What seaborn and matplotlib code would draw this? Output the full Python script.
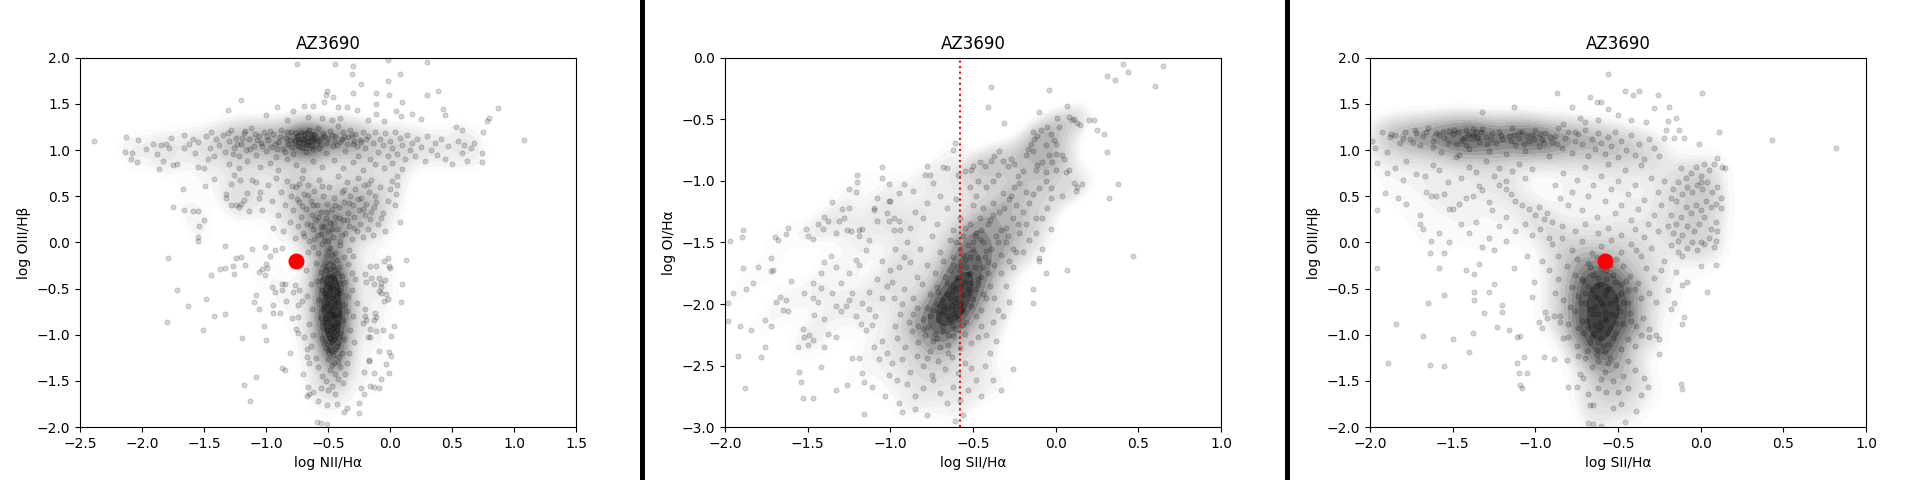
import matplotlib
matplotlib.use("Agg")
import matplotlib.pyplot as plt
from matplotlib.patches import Rectangle
import pandas as pd
import seaborn as sns

# ---- panel 1: log NII/Ha vs log OIII/Hb ----
p1_top = [(-0.75,1.93),(-0.44,1.93),(-0.30,1.91),(-0.31,1.82),(-0.02,1.97),(0.08,1.82),(-0.02,1.75),(-0.23,1.71),
          (-0.51,1.64),(-0.52,1.59),(-0.46,1.57),(-0.30,1.62),(-0.11,1.62),(-0.01,1.59),(0.10,1.52),(-0.11,1.50),
          (-0.42,1.47),(-0.35,1.47),(-0.53,1.52),(-0.62,1.48),(-0.69,1.48),(-0.78,1.42),(-0.91,1.47),(-1.00,1.38),
          (-1.20,1.54),(-1.31,1.43),(-0.27,1.43),(-0.11,1.39),(0.05,1.42),(0.09,1.37),(0.18,1.39),(0.25,1.34),
          (0.30,1.95),(0.30,1.59),(0.39,1.64),(0.43,1.44),(0.44,1.38),(0.87,1.45),(0.80,1.35),(0.78,1.31),
          (-0.55,1.35),(-0.47,1.33),(-0.40,1.35),(-0.66,1.36),(-0.18,1.33),(-0.83,1.33),(-0.05,1.31)]
p1_band = [(-2.39,1.10),(-2.14,0.98),(-2.08,0.97),(-2.04,0.87),(-2.09,0.90),(-2.13,1.14),(-2.03,1.11),(-1.97,1.01),
           (-1.91,1.07),(-1.85,1.05),(-1.77,1.13),(-1.81,1.06),(-1.78,1.02),(-1.88,0.96),(-1.83,0.88),(-1.86,0.79),
           (-1.75,0.84),(-1.72,0.85),(-1.66,1.16),(-1.59,1.12),(-1.57,0.97),(-1.66,1.02),(-1.55,0.82),(-1.50,0.80),
           (-1.62,1.06),(-1.55,1.09),(-1.48,1.15),(-1.44,1.20),(-1.40,1.12),(-1.45,1.02),(-1.42,0.94),(-1.47,0.90),
           (-1.38,1.05),(-1.35,1.16),(-1.33,0.98),(-1.30,1.10),(-1.28,1.22),(-1.26,1.02),(-1.24,1.13),(-1.22,0.93),
           (-1.20,1.07),(-1.18,1.18),(-1.16,1.00),(-1.14,1.12),(-1.12,1.24),(-1.10,1.04),(-1.08,0.95),(-1.06,1.15),
           (-1.04,1.08),(-1.02,1.20),(-1.00,0.99),(-0.98,1.11),(-0.96,1.03),(-0.94,1.17),(-0.92,0.92),(-0.90,1.09),
           (-0.88,1.22),(-0.86,1.01),(-0.84,1.13),(-0.82,1.06),(-0.80,1.19),(-0.78,0.96),(-0.77,1.10),(-0.75,1.15),
           (-0.74,1.04),(-0.72,1.20),(-0.71,1.12),(-0.70,1.08),(-0.69,1.17),(-0.68,0.98),(-0.67,1.13),(-0.66,1.05),
           (-0.65,1.22),(-0.64,1.10),(-0.63,1.16),(-0.62,1.01),(-0.60,1.12),(-0.58,1.24),(-0.56,1.07),(-0.54,1.18),
           (-0.52,0.97),(-0.50,1.13),(-0.48,1.21),(-0.46,1.04),(-0.44,1.15),(-0.42,1.26),(-0.40,1.09),(-0.38,1.19),
           (-0.36,0.99),(-0.34,1.14),(-0.32,1.22),(-0.30,1.06),(-0.28,1.17),(-0.26,0.94),(-0.24,1.11),(-0.22,1.20),
           (-0.20,1.02),(-0.18,1.15),(-0.16,0.90),(-0.14,1.08),(-0.12,1.19),(-0.10,0.98),(-0.08,1.12),(-0.06,1.05),
           (-0.04,1.18),(-0.02,0.93),(0.00,1.10),(0.02,1.02),(0.04,1.19),(0.06,0.96),(0.08,1.13),(0.10,1.05),
           (0.12,0.90),(0.14,1.16),(0.16,1.00),(0.18,1.08),(0.20,0.94),(0.22,1.12),(0.25,1.03),(0.28,0.88),
           (0.30,1.15),(0.33,1.00),(0.36,1.08),(0.38,0.95),(0.41,1.12),(0.44,0.90),(0.47,1.04),(0.50,0.85),
           (0.53,1.25),(0.55,1.10),(0.58,0.97),(0.60,1.05),(0.62,0.88),(0.65,1.02),(0.68,1.08),(0.74,0.97),
           (0.74,0.87),(1.08,1.11),(0.75,1.20),(0.58,1.22),
           (-1.30,0.85),(-1.22,0.80),(-1.15,0.88),(-1.05,0.82),(-0.97,0.86),(-0.90,0.78),(-0.83,0.90),(-0.76,0.84),
           (-0.70,0.78),(-0.62,0.88),(-0.55,0.82),(-0.45,0.89),(-0.38,0.80),(-0.30,0.87),(-0.22,0.78),(-0.12,0.85),
           (-0.05,0.80),(0.02,0.86),(0.06,0.72),(0.10,0.79),
           (-1.31,1.18),(-1.27,0.96),(-1.19,1.13),(-1.13,1.01),(-1.09,1.17),(-1.03,1.04),(-0.99,1.15),(-0.93,1.06),
           (-0.89,1.14),(-0.85,0.98),(-0.81,1.11),(-0.79,1.03),(-0.76,1.18),(-0.73,1.09),(-0.71,1.02),(-0.69,1.12),
           (-0.67,1.19),(-0.66,1.09),(-0.64,1.14),(-0.63,1.05),(-0.61,1.17),(-0.59,1.10),(-0.57,1.02),(-0.55,1.13),
           (-0.51,1.08),(-0.47,1.16),(-0.43,1.05),(-0.39,1.12),(-0.35,1.07),(-0.31,1.16),(-0.27,1.04),(-0.23,1.09),
           (-0.19,1.12),(-1.23,1.06),(-1.17,1.21),(-1.07,1.11),(-0.97,1.21),(-0.91,1.01),(-0.83,1.19),(-0.74,1.12),
           (-0.68,1.06),(-0.62,1.12),(-0.53,1.15),(-0.45,1.10),(-0.37,1.14),(-0.29,1.10)]
p1_fan = [(-1.75,0.38),(-1.66,0.35),(-1.59,0.34),(-1.55,0.34),(-1.50,0.24),(-1.54,0.18),(-1.55,0.06),(-1.55,0.02),
          (-1.67,0.58),(-1.49,0.61),(-1.42,0.69),(-1.32,0.52),(-1.32,0.48),(-1.28,0.63),(-1.26,0.73),(-1.21,0.67),
          (-1.18,0.46),(-1.24,0.40),(-1.22,0.38),(-1.20,0.42),(-1.28,0.41),(-1.14,0.34),(-1.15,0.54),(-1.11,0.67),
          (-1.08,0.65),(-1.05,0.55),(-1.06,0.48),(-1.03,0.35),(-0.94,0.16),
          (-0.98,0.62),(-0.95,0.45),(-0.92,0.70),(-0.90,0.30),(-0.88,0.55),(-0.86,0.12),(-0.85,0.40),(-0.83,0.66),
          (-0.81,0.22),(-0.80,0.50),(-0.78,0.35),(-0.77,0.05),(-0.76,0.60),(-0.74,0.18),(-0.73,0.44),(-0.72,0.28),
          (-0.71,0.70),(-0.70,0.10),(-0.69,0.52),(-0.68,0.36),(-0.67,0.20),(-0.66,0.62),(-0.65,0.02),(-0.64,0.45),
          (-0.63,0.30),(-0.62,0.14),(-0.61,0.56),(-0.60,0.24),(-0.59,0.40),(-0.58,0.08),(-0.57,0.68),(-0.56,0.33),
          (-0.55,0.17),(-0.54,0.50),(-0.53,0.03),(-0.52,0.26),(-0.51,0.42),(-0.50,0.12),(-0.49,0.60),(-0.48,0.21),
          (-0.47,0.36),(-0.46,0.06),(-0.45,0.48),(-0.44,0.28),(-0.43,0.15),(-0.42,0.72),(-0.41,0.38),(-0.40,0.02),
          (-0.39,0.55),(-0.38,0.24),(-0.37,0.44),(-0.36,0.10),(-0.35,0.65),(-0.34,0.32),(-0.33,0.18),(-0.32,0.50),
          (-0.31,0.04),(-0.30,0.40),(-0.29,0.27),(-0.28,0.58),(-0.27,0.12),(-0.26,0.70),(-0.25,0.35),(-0.24,0.20),
          (-0.23,0.48),(-0.22,0.06),(-0.21,0.62),(-0.20,0.30),(-0.19,0.42),(-0.18,0.15),(-0.17,0.55),(-0.16,0.25),
          (-0.15,0.68),(-0.14,0.08),(-0.13,0.38),(-0.12,0.50),(-0.10,0.20),(-0.08,0.60),(-0.06,0.32),(-0.04,0.12),
          (-0.02,0.45),(0.00,0.58),(0.02,0.66),(0.04,0.40),(0.05,0.52),(0.08,0.22),(0.06,0.62),
          (-0.79,0.61),(-0.75,0.47),(-0.71,0.39),(-0.66,0.51),(-0.62,0.41),(-0.58,0.27),(-0.55,0.61),(-0.51,0.33),
          (-0.47,0.15),(-0.44,0.41),(-0.41,0.26),(-0.37,0.57),(-0.33,0.43),(-0.29,0.16),(-0.26,0.47),(-0.22,0.36),
          (-0.18,0.63),(-0.15,0.33),(-0.11,0.44),(-0.07,0.26),(-0.69,0.07),(-0.61,0.04),(-0.56,0.09),(-0.50,0.02),
          (-0.45,0.21),(-0.39,0.08),(-0.64,0.19),(-0.53,0.18),(-0.35,0.24),(-0.73,0.63)]
p1_core = [(-0.62,-0.05),(-0.55,-0.02),(-0.48,-0.06),(-0.40,-0.03),(-0.33,-0.08),(-0.58,-0.12),(-0.51,-0.15),(-0.44,-0.11),
           (-0.37,-0.16),(-0.60,-0.22),(-0.53,-0.25),(-0.47,-0.20),(-0.41,-0.27),(-0.34,-0.23),(-0.56,-0.32),(-0.50,-0.35),
           (-0.45,-0.30),(-0.39,-0.36),(-0.31,-0.33),(-0.59,-0.42),(-0.52,-0.45),(-0.48,-0.40),(-0.43,-0.47),(-0.36,-0.43),
           (-0.55,-0.52),(-0.50,-0.56),(-0.46,-0.50),(-0.41,-0.55),(-0.34,-0.58),(-0.57,-0.62),(-0.51,-0.66),(-0.47,-0.60),
           (-0.42,-0.64),(-0.37,-0.68),(-0.54,-0.72),(-0.49,-0.75),(-0.45,-0.70),(-0.40,-0.77),(-0.35,-0.74),(-0.56,-0.82),
           (-0.51,-0.86),(-0.46,-0.80),(-0.42,-0.88),(-0.38,-0.84),(-0.53,-0.93),(-0.48,-0.96),(-0.44,-0.91),(-0.40,-0.98),
           (-0.55,-1.03),(-0.50,-1.07),(-0.46,-1.01),(-0.42,-1.09),(-0.37,-1.05),(-0.52,-1.14),(-0.47,-1.18),(-0.43,-1.12),
           (-0.39,-1.20),(-0.50,-1.26),(-0.45,-1.30),(-0.41,-1.24),(-0.48,-1.38),(-0.44,-1.42),(-0.40,-1.35),
           (-0.50,-0.09),(-0.46,-0.25),(-0.53,-0.38),(-0.44,-0.42),(-0.49,-0.52),(-0.52,-0.58),(-0.45,-0.62),(-0.48,-0.68),
           (-0.51,-0.78),(-0.44,-0.82),(-0.47,-0.88),(-0.50,-0.99),(-0.45,-1.05),(-0.48,-1.12),(-0.46,-0.35),(-0.49,-0.45),
           (-0.43,-0.58),(-0.47,-0.73),(-0.43,-0.95),(-0.49,-1.20),
           (-0.66,-0.10),(-0.68,-0.30),(-0.64,-0.45),(-0.67,-0.58),(-0.63,-0.72),(-0.65,-0.88),(-0.62,-1.00),(-0.64,-1.12),
           (-0.60,-1.25),(-0.30,-0.15),(-0.28,-0.40),(-0.31,-0.52),(-0.27,-0.66),(-0.30,-0.80),(-0.32,-0.95),(-0.29,-1.08),
           (-0.33,-1.20),(-0.35,-1.30),(-0.58,-1.35),(-0.55,-1.45),(-0.52,-1.50),(-0.47,-1.55),(-0.42,-1.48),(-0.38,-1.52),
           (-0.36,-1.42),(-0.50,-1.60),(-0.44,-1.64),(-0.56,-1.58),
           (-0.47,-0.14),(-0.52,-0.21),(-0.43,-0.19),(-0.49,-0.29),(-0.42,-0.33),(-0.55,-0.41),(-0.47,-0.46),(-0.41,-0.51),
           (-0.53,-0.55),(-0.46,-0.57),(-0.50,-0.62),(-0.44,-0.67),(-0.53,-0.69),(-0.47,-0.77),(-0.41,-0.72),(-0.49,-0.83),
           (-0.43,-0.86),(-0.54,-0.87),(-0.46,-0.93),(-0.51,-0.95),(-0.41,-1.02),(-0.48,-1.03),(-0.53,-1.09),(-0.44,-1.15),
           (-0.46,-1.22),(-0.42,-1.29),(-0.47,-1.33),(-0.52,-0.30),(-0.45,-0.38),(-0.40,-0.44),(-0.48,-0.49),(-0.43,-0.53),
           (-0.50,-0.71),(-0.45,-0.78),(-0.48,-0.91),(-0.42,-0.79),(-0.52,-0.82),(-0.45,-0.97),(-0.47,-1.09),(-0.50,-1.16)]
p1_scatter = [(-1.79,-0.17),(-1.72,-0.51),(-1.80,-0.86),(-1.63,-0.69),(-1.48,-0.61),(-1.51,-0.95),(-1.44,-0.35),(-1.42,-0.80),
              (-1.33,-0.77),(-1.37,-0.29),(-1.33,-0.28),(-1.27,-0.26),(-1.24,-0.17),(-1.20,-0.16),(-1.17,-0.24),(-1.26,-0.34),
              (-1.33,-0.04),(-1.11,-0.07),(-1.01,-0.05),(-0.87,-0.06),(-0.93,-0.08),(-0.97,-0.15),(-1.00,-0.23),(-1.03,-0.29),
              (-1.06,-0.32),(-1.01,-0.35),(-0.99,-0.28),(-1.19,-1.03),(-1.08,-1.46),(-1.18,-1.54),(-1.13,-1.72),(-1.00,-1.06),
              (-1.02,-0.90),(-1.10,-0.64),(-1.08,-0.57),(-1.06,-0.72),(-0.95,-0.48),(-0.93,-0.54),(-0.94,-0.68),(-0.89,-0.76),
              (-0.94,-0.76),(-0.87,-0.45),(-0.85,-0.45),(-0.87,-0.52),(-0.84,-0.63),(-0.81,-1.20),(-0.87,-1.36),(-0.85,-1.38),
              (-0.78,-0.54),(-0.77,-0.46),(-0.79,-0.82),(-0.74,-0.81),(-0.74,-0.68),(-0.71,-0.63),(-0.73,-0.52),(-0.76,-0.94),
              (-0.74,-0.98),(-0.69,-1.02),(-0.67,-1.15),(-0.67,-1.24),(-0.65,-1.30),(-0.70,-1.42),(-0.66,-1.57),(-0.62,-1.62),
              (-0.58,-1.72),(-0.67,-1.66),(-0.65,-1.64),(-0.59,-1.94),(-0.56,-1.95),(-0.51,-1.96),(-0.51,-1.76),(-0.43,-1.75),
              (-0.35,-1.79),(-0.37,-1.84),(-0.25,-1.74),(-0.25,-1.85),(-0.21,-1.64),(-0.23,-1.58),(-0.13,-1.56),(-0.16,-1.55),
              (-0.09,-1.58),(-0.07,-1.48),(-0.01,-1.41),(-0.13,-1.41),(-0.21,-1.40),(-0.03,-1.32),(0.01,-1.23),(-0.01,-1.19),
              (-0.09,-1.17),(-0.17,-1.28),(-0.17,-1.27),(0.03,-0.91),(0.01,-1.01),(-0.06,-0.95),(-0.11,-0.96),(-0.16,-1.02),
              (-0.18,-1.02),(-0.13,-0.84),(-0.12,-0.76),(-0.11,-0.81),(-0.19,-0.84),(0.09,-0.64),(0.10,-0.45),(0.13,-0.19),
              (-0.02,-0.61),(-0.05,-0.63),(-0.07,-0.55),(-0.09,-0.53),(-0.03,-0.56),(-0.07,-0.44),(-0.07,-0.48),(-0.04,-0.41),
              (-0.09,-0.39),(-0.13,-0.45),(-0.15,-0.39),(-0.19,-0.43),(-0.20,-0.34),(-0.16,-0.25),(-0.11,-0.25),(-0.02,-0.17),
              (0.00,-0.28),(-0.01,-0.25),(-0.05,-0.20),(-0.20,-0.72),(-0.20,-0.80),(-0.22,-0.87),(-0.16,-0.94)]

# ---- panel 2: log SII/Ha vs log OI/Ha ----
p2_top = [(0.41,-0.05),(0.44,-0.12),(0.31,-0.15),(0.36,-0.18),(0.65,-0.07),(0.60,-0.23),(-0.04,-0.26),(-0.39,-0.24),
          (-0.41,-0.40),(-0.31,-0.53),(-0.10,-0.44),(0.07,-0.39),(0.20,-0.51),(0.23,-0.51),(0.25,-0.59),(0.29,-0.62),
          (0.31,-0.77),(0.38,-1.03),(0.32,-1.14),(0.47,-1.61),(0.07,-1.72),(-0.06,-1.75),(-0.14,-1.88),(-0.14,-1.99),
          (-0.10,-1.63)]
p2_branch = [(0.08,-0.48),(0.10,-0.51),(0.13,-0.53),(0.15,-0.55),(0.11,-0.50),(0.01,-0.49),(0.02,-0.56),(-0.01,-0.67),
             (0.00,-0.70),(-0.03,-0.62),(-0.05,-0.56),(-0.09,-0.59),(-0.11,-0.64),(-0.14,-0.60),(-0.13,-0.66),(-0.15,-0.70),
             (-0.17,-0.74),(-0.18,-0.79),(-0.14,-0.76),(-0.06,-0.71),(-0.04,-0.79),(0.00,-0.78),(0.04,-0.79),(0.05,-0.82),
             (-0.02,-0.85),(-0.08,-0.85),(-0.11,-0.87),(-0.12,-0.91),(-0.06,-0.93),(0.00,-0.91),(0.06,-0.93),(0.08,-0.91),
             (0.11,-1.02),(0.13,-1.05),(0.16,-1.03),(0.12,-1.08),(-0.03,-1.06),(-0.03,-1.14),(-0.05,-1.22),(-0.03,-1.39),
             (-0.10,-1.06),(-0.14,-1.11),(-0.18,-1.09),(-0.22,-1.02),(-0.23,-0.96),(-0.25,-0.86),(-0.27,-0.82),(-0.29,-0.88),
             (-0.32,-0.84),(-0.34,-0.76),(-0.37,-0.80),(-0.39,-0.84),(-0.43,-0.88),(-0.46,-0.85),(-0.50,-0.88),(-0.51,-0.91),
             (-0.55,-0.92),(-0.59,-0.95),(-0.61,-0.69),(-0.62,-0.75),(-0.32,-1.10),(-0.28,-1.15),(-0.24,-1.20),(-0.20,-1.25),
             (-0.16,-1.18),(-0.12,-1.30),(-0.18,-1.35),(-0.22,-1.42),(-0.26,-1.30),(-0.30,-1.38),(-0.34,-1.25),(-0.38,-1.18),
             (-0.42,-1.05),(-0.44,-1.22),(-0.40,-1.32),(-0.36,-1.45),(-0.30,-1.50),(-0.26,-1.55),(-0.20,-1.58),(-0.16,-1.48),
             (-0.12,-1.42),(-0.08,-1.55),(-0.10,-1.65),(-0.28,-1.65),(-0.33,-1.60),(-0.38,-1.00),(-0.47,-1.00),(-0.48,-1.12),
             (-0.52,-1.05),(-0.50,-1.20),(-0.46,-1.30),(-0.52,-1.35),(-0.48,-1.42),(-0.44,-1.50),(-0.50,-1.50),(-0.06,-1.00),
             (0.04,-1.12),(-0.08,-1.30),(-0.25,-1.05),(-0.35,-0.95),(-0.20,-0.92),
             (-0.55,-1.38),(-0.53,-1.52),(-0.49,-1.45),(-0.45,-1.40),(-0.43,-1.62),(-0.41,-1.75),(-0.47,-1.80),(-0.44,-1.70),
             (-0.39,-1.55),(-0.37,-1.68),(-0.35,-1.50),(-0.41,-1.35),(-0.38,-1.28),(-0.33,-1.40),(-0.31,-1.22),(-0.27,-1.12),
             (-0.23,-1.35),(-0.29,-1.45),(-0.52,-1.75),(-0.49,-1.88)]
p2_left = [(-1.89,-1.40),(-1.90,-1.46),(-1.97,-1.49),(-1.70,-1.46),(-1.68,-1.48),(-1.62,-1.38),(-1.63,-1.43),(-1.51,-1.39),
           (-1.50,-1.45),(-1.47,-1.47),(-1.40,-1.29),(-1.38,-1.33),(-1.44,-1.35),(-1.41,-1.39),(-1.35,-1.17),(-1.29,-1.23),
           (-1.25,-1.22),(-1.10,-1.22),(-1.10,-1.24),(-1.02,-1.26),(-0.95,-1.10),(-1.08,-1.14),(-1.01,-1.16),(-1.00,-1.16),
           (-1.05,-0.89),(-1.20,-0.95),(-1.20,-1.01),(-1.21,-1.09),(-1.25,-1.07),(-1.05,-0.98),(-1.01,-1.03),(-0.92,-1.03),
           (-0.79,-0.95),(-0.76,-0.95),(-0.78,-0.88),(-0.68,-0.89),(-0.66,-0.90),(-1.33,-1.42),(-1.31,-1.33),(-1.28,-1.30),
           (-1.26,-1.40),(-1.24,-1.41),(-1.19,-1.40),(-1.17,-1.39),(-1.19,-1.45),(-1.13,-1.48),(-1.08,-1.33),(-1.01,-1.33),
           (-0.98,-1.30),(-0.95,-1.33),(-0.94,-1.40),
           (-1.98,-1.99),(-1.98,-2.14),(-1.91,-2.18),(-1.92,-2.42),(-1.88,-2.68),(-1.95,-1.91),(-1.89,-1.71),(-1.87,-1.88),
           (-1.84,-2.21),(-1.83,-1.83),(-1.80,-1.70),(-1.78,-2.43),(-1.76,-2.35),(-1.76,-2.13),(-1.72,-2.18),(-1.71,-1.72),
           (-1.72,-1.63),(-1.72,-1.73),(-1.69,-1.98),(-1.67,-1.94),(-1.65,-2.05),(-1.63,-1.97),(-1.62,-2.06),(-1.60,-1.81),
           (-1.56,-2.35),(-1.55,-2.55),(-1.54,-2.63),(-1.53,-2.76),(-1.47,-2.76),(-1.53,-2.20),(-1.52,-2.27),(-1.49,-2.25),
           (-1.50,-2.33),(-1.47,-2.29),(-1.46,-2.09),(-1.44,-1.98),(-1.47,-1.95),(-1.52,-1.91),(-1.47,-1.83),(-1.42,-1.75),
           (-1.40,-1.66),(-1.42,-1.87),(-1.35,-1.91),(-1.33,-2.02),(-1.30,-2.06),(-1.27,-2.02),(-1.25,-1.97),(-1.23,-1.91),
           (-1.40,-2.12),(-1.38,-2.24),(-1.33,-2.27),(-1.40,-2.35),(-1.42,-2.51),(-1.33,-2.70),(-1.26,-2.66),(-1.23,-2.44),
           (-1.19,-2.44),(-1.17,-2.56),(-1.16,-2.63),(-1.16,-2.89),(-1.11,-2.67),(-1.18,-2.16),(-1.15,-2.21),(-1.11,-2.17),
           (-1.09,-2.10),(-1.13,-2.04),(-1.17,-1.99),(-1.21,-2.10),(-1.21,-1.64),(-1.19,-1.68),(-1.25,-1.75),(-1.30,-1.83),
           (-1.33,-1.70),(-1.36,-1.61),(-1.05,-1.65),(-1.00,-1.72),(-1.02,-1.85),(-0.98,-1.95),(-1.05,-2.30),(-1.02,-2.40),
           (-0.99,-2.48),(-1.07,-2.45),(-1.01,-2.58),(-0.96,-2.62),(-1.03,-2.75),(-0.95,-2.80),(-0.93,-2.88)]
p2_core = [(-0.90,-1.50),(-0.82,-1.55),(-0.75,-1.45),(-0.70,-1.58),(-0.64,-1.48),(-0.58,-1.55),(-0.52,-1.62),(-0.46,-1.47),
           (-0.42,-1.57),(-0.95,-1.70),(-0.88,-1.66),(-0.84,-1.78),(-0.78,-1.68),(-0.73,-1.75),(-0.68,-1.65),(-0.64,-1.72),
           (-0.60,-1.80),(-0.57,-1.68),(-0.53,-1.76),(-0.49,-1.70),(-0.45,-1.78),(-0.41,-1.66),(-0.62,-1.62),(-0.55,-1.64),
           (-0.92,-1.88),(-0.86,-1.95),(-0.81,-1.84),(-0.76,-1.92),(-0.72,-1.86),(-0.69,-1.97),(-0.66,-1.83),(-0.63,-1.90),
           (-0.61,-1.98),(-0.58,-1.85),(-0.56,-1.93),(-0.53,-1.88),(-0.50,-1.96),(-0.47,-1.84),(-0.44,-1.92),(-0.60,-1.88),
           (-0.64,-1.95),(-0.57,-1.99),(-0.94,-2.08),(-0.89,-2.15),(-0.84,-2.03),(-0.80,-2.12),(-0.77,-2.19),(-0.74,-2.05),
           (-0.71,-2.13),(-0.68,-2.02),(-0.66,-2.10),(-0.63,-2.17),(-0.61,-2.04),(-0.59,-2.12),(-0.56,-2.06),(-0.54,-2.15),
           (-0.51,-2.02),(-0.48,-2.10),(-0.45,-2.18),(-0.62,-2.08),(-0.65,-2.03),(-0.58,-2.01),(-0.70,-2.08),
           (-0.96,-2.28),(-0.91,-2.35),(-0.87,-2.22),(-0.83,-2.31),(-0.79,-2.25),(-0.76,-2.38),(-0.72,-2.28),(-0.68,-2.22),
           (-0.65,-2.33),(-0.62,-2.26),(-0.58,-2.36),(-0.55,-2.24),(-0.51,-2.32),(-0.47,-2.27),(-0.80,-2.20),
           (-0.93,-2.45),(-0.88,-2.55),(-0.84,-2.42),(-0.80,-2.50),(-0.75,-2.58),(-0.71,-2.46),(-0.67,-2.53),(-0.63,-2.43),
           (-0.59,-2.56),(-0.55,-2.48),(-0.51,-2.52),(-0.78,-2.44),(-0.90,-2.65),(-0.85,-2.75),(-0.80,-2.68),(-0.74,-2.62),
           (-0.70,-2.72),(-0.66,-2.80),(-0.62,-2.67),(-0.58,-2.78),(-0.56,-2.90),(-0.61,-2.95),(-0.53,-2.70),(-0.48,-2.62),
           (-0.45,-2.75),(-0.85,-2.85),(-0.78,-2.90),
           (-0.40,-1.85),(-0.37,-1.95),(-0.35,-2.05),(-0.38,-2.15),(-0.42,-2.25),(-0.36,-2.30),(-0.40,-2.40),(-0.33,-1.75),
           (-0.30,-1.85),(-0.28,-1.98),(-0.32,-2.10),(-0.26,-1.70),(-0.43,-2.50),(-0.38,-2.62),(-0.33,-2.70),(-0.26,-2.53),
           (-0.24,-1.58),(-0.45,-2.05),(-0.42,-1.95),
           (-0.97,-1.55),(-0.92,-1.62),(-0.99,-1.82),(-0.93,-2.00),(-0.97,-2.18),(-1.05,-1.95),(-1.08,-1.80),(-1.10,-2.35),
           (-1.13,-1.90),(-1.15,-1.56),(-0.98,-1.40),(-0.88,-1.38),(-0.80,-1.30),(-0.72,-1.35),(-0.66,-1.22),(-0.70,-1.12),
           (-0.78,-1.18),(-0.85,-1.25),(-0.86,-1.08),(-0.74,-1.02),(-0.58,-1.30),(-0.60,-1.15),(-0.62,-1.40),(-0.56,-1.45),
           (-0.63,-2.01),(-0.60,-1.95),(-0.57,-2.05),(-0.66,-1.92),(-0.62,-1.85),(-0.59,-1.78),(-0.55,-1.82),(-0.68,-2.06),
           (-0.72,-2.00),(-0.64,-2.12),(-0.60,-2.09),(-0.56,-2.17),(-0.69,-2.18),(-0.73,-2.24),(-0.65,-2.25),(-0.61,-2.20),
           (-0.58,-1.72),(-0.54,-1.70),(-0.51,-1.83),(-0.67,-1.78),(-0.71,-1.90),(-0.76,-2.10),(-0.78,-2.03),(-0.52,-1.91),
           (-0.62,-1.68),(-0.56,-1.60),(-0.50,-1.55),(-0.47,-1.63),(-0.60,-1.50),(-0.65,-2.40),(-0.70,-2.35),(-0.74,-2.30),
           (-0.83,-2.18),(-0.86,-2.08)]

# ---- panel 3: log SII/Ha vs log OIII/Hb ----
p3_top = [(-0.56,1.82),(-0.87,1.62),(-0.46,1.64),(-0.41,1.59),(-0.37,1.64),(-0.26,1.59),(0.01,1.62),(-0.67,1.57),
          (-0.63,1.52),(-0.60,1.52),(-0.56,1.44),(-0.78,1.46),(-1.13,1.46),(-1.32,1.41),(-0.28,1.45),(-0.19,1.47),
          (-0.15,1.35),(-0.20,1.31),(-0.21,1.22),(0.11,1.20),(0.43,1.11),(0.82,1.02),(-0.01,1.06),(-0.73,1.35),
          (-0.50,1.38),(-0.42,1.33),(-0.33,1.30),(-0.70,1.30),(-0.83,1.28),(-0.62,1.33),(-0.10,1.13),(-0.16,1.13),
          (-0.13,1.22)]
p3_band = [(-1.99,1.10),(-1.97,1.02),(-1.93,1.20),(-1.90,0.98),(-1.88,1.14),(-1.85,1.16),(-1.82,1.08),(-1.79,1.20),
           (-1.76,1.12),(-1.73,1.22),(-1.70,1.05),(-1.68,1.15),(-1.65,1.24),(-1.62,1.10),(-1.60,1.18),(-1.57,0.98),
           (-1.55,1.13),(-1.52,1.21),(-1.50,1.17),(-1.48,1.06),(-1.46,0.95),(-1.44,1.12),(-1.42,1.22),(-1.40,1.01),
           (-1.38,1.16),(-1.36,1.20),(-1.34,1.09),(-1.32,1.23),(-1.30,1.14),(-1.28,0.99),(-1.26,1.18),(-1.24,1.08),
           (-1.22,1.20),(-1.20,1.12),(-1.18,0.96),(-1.16,1.15),(-1.14,1.24),(-1.12,1.05),(-1.10,1.13),(-1.08,1.19),
           (-1.06,0.99),(-1.04,1.10),(-1.02,1.16),(-1.00,1.22),(-0.98,1.04),(-0.96,1.12),(-0.94,1.18),(-0.92,0.94),
           (-0.90,1.09),(-0.88,1.15),(-0.86,1.24),(-0.84,1.02),(-0.82,1.13),(-0.80,1.20),(-0.78,0.97),(-0.76,1.10),
           (-0.74,1.17),(-0.72,1.06),(-0.70,1.22),(-0.68,0.93),(-0.66,1.12),(-0.64,1.01),(-0.62,1.18),(-0.60,1.08),
           (-0.58,0.96),(-0.56,1.14),(-0.54,1.04),(-0.52,1.20),(-0.50,0.92),(-0.48,1.10),(-0.45,1.00),(-0.42,1.16),
           (-0.40,0.95),(-0.37,1.07),(-0.34,0.90),(-0.31,1.12),(-0.28,1.02),(-0.25,0.94),(-0.22,1.13),
           (-1.80,1.13),(-1.58,1.16),(-1.47,1.19),(-1.35,1.14),(-1.27,1.12),(-1.15,1.10),(-1.05,1.15),(-0.95,1.08),
           (-1.42,1.05),(-1.62,1.03),(-1.72,1.18),(-1.38,1.23),(-1.10,1.20),(-0.87,1.07),(-0.76,1.19),
           (-1.87,1.17),(-1.74,1.09),(-1.66,1.19),(-1.53,1.08),(-1.49,1.22),(-1.41,1.17),(-1.33,1.19),(-1.29,1.07),
           (-1.21,1.16),(-1.13,1.16),(-1.07,1.06),(-1.01,1.12),(-0.97,1.17),(-0.91,1.14),(-1.45,1.10),(-1.56,1.20)]
p3_mid = [(-1.96,0.86),(-1.90,0.75),(-1.85,0.80),(-1.80,0.68),(-1.78,0.88),(-1.72,0.74),(-1.67,0.72),(-1.62,0.84),
          (-1.58,0.78),(-1.53,0.65),(-1.48,0.92),(-1.45,0.70),(-1.40,0.82),(-1.36,0.76),(-1.30,0.88),(-1.25,0.72),
          (-1.22,0.81),(-1.18,0.66),(-1.14,0.77),(-1.10,0.85),(-1.06,0.70),(-1.02,0.79),
          (-1.91,0.53),(-1.83,0.48),(-1.78,0.42),(-1.96,0.35),(-1.70,0.30),(-1.66,0.55),(-1.63,0.50),(-1.60,0.50),
          (-1.55,0.52),(-1.52,0.36),(-1.50,0.36),(-1.46,0.42),(-1.42,0.48),(-1.38,0.50),(-1.34,0.61),(-1.32,0.57),
          (-1.28,0.44),(-1.26,0.35),(-1.22,0.62),(-1.18,0.58),(-1.15,0.52),(-1.12,0.45),(-1.08,0.40),(-1.04,0.36),
          (-1.00,0.30),(-0.98,0.38),(-0.95,0.25),(-1.70,0.20),(-1.68,0.15),(-1.63,0.02),(-1.58,0.10),(-1.52,0.00),
          (-1.45,0.20),(-1.40,0.10),(-1.36,0.22),(-1.32,-0.05),(-1.28,0.05),(-1.22,0.18),(-1.18,0.28),(-1.12,0.12),
          (-1.06,0.20),(-1.02,0.08),(-0.97,0.15),(-0.92,0.05),(-0.90,0.22),(-0.93,0.32),
          (-0.88,0.62),(-0.85,0.48),(-0.83,0.75),(-0.80,0.40),(-0.78,0.55),(-0.75,0.68),(-0.72,0.35),(-0.70,0.82),
          (-0.68,0.50),(-0.65,0.62),(-0.63,0.28),(-0.60,0.72),(-0.58,0.45),(-0.56,0.85),(-0.54,0.58),(-0.52,0.32),
          (-0.50,0.66),(-0.48,0.40),(-0.46,0.78),(-0.44,0.52),(-0.42,0.24),(-0.40,0.62),(-0.38,0.36),(-0.36,0.84),
          (-0.34,0.46),(-0.32,0.20),(-0.30,0.70),(-0.28,0.30),(-0.26,0.55),(-0.24,0.40),(-0.22,0.66),(-0.20,0.18),
          (-0.18,0.48),(-0.84,0.18),(-0.76,0.12),(-0.70,0.20),(-0.62,0.10),(-0.56,0.16),(-0.48,0.08),(-0.40,0.14),
          (-0.34,0.06),(-0.26,0.12)]
p3_right = [(0.10,0.91),(0.13,0.82),(0.15,0.80),(0.08,0.85),(0.05,0.78),(0.02,0.85),(0.00,0.72),(-0.03,0.82),
            (-0.06,0.75),(-0.09,0.70),(-0.12,0.80),(-0.14,0.65),(-0.17,0.58),(-0.15,0.45),(-0.11,0.52),(-0.08,0.60),
            (-0.05,0.55),(-0.02,0.62),(0.01,0.58),(0.04,0.65),(0.07,0.55),(0.10,0.60),(0.12,0.48),(0.09,0.42),
            (0.06,0.38),(0.03,0.45),(0.00,0.35),(-0.03,0.40),(-0.06,0.32),(-0.09,0.38),(-0.12,0.28),(-0.15,0.20),
            (-0.18,0.30),(0.12,0.37),(0.09,0.22),(0.06,0.15),(0.02,0.28),(-0.01,0.20),(-0.04,0.12),(-0.08,0.18),
            (-0.11,0.08),(-0.14,0.02),(-0.17,0.10),(0.10,0.12),(0.09,0.02),(0.08,-0.05),(0.05,0.05),(0.02,-0.02),
            (-0.02,-0.08),(-0.05,0.00),(-0.08,-0.06),(-0.11,-0.15),(-0.14,-0.10),(0.00,-0.25),(0.09,-0.24),(0.04,-0.54),
            (-0.18,-0.03),(0.00,0.00),(0.00,0.65)]
p3_core = [(-0.90,-0.02),(-0.84,0.05),(-0.78,-0.08),(-0.72,0.02),(-0.66,-0.12),(-0.60,-0.04),(-0.54,0.03),(-0.48,-0.10),
           (-0.42,-0.02),(-0.36,-0.15),(-0.30,-0.06),(-0.86,-0.15),(-0.75,-0.18),(-0.63,-0.16),(-0.51,-0.18),(-0.39,-0.08),
           (-0.92,-0.30),(-0.86,-0.40),(-0.81,-0.25),(-0.76,-0.35),(-0.71,-0.42),(-0.67,-0.27),(-0.62,-0.38),(-0.57,-0.30),
           (-0.52,-0.43),(-0.47,-0.26),(-0.43,-0.36),(-0.38,-0.44),(-0.33,-0.28),(-0.28,-0.38),(-0.24,-0.30),(-0.68,-0.22),
           (-0.55,-0.24),(-0.45,-0.42),
           (-0.88,-0.55),(-0.83,-0.62),(-0.78,-0.48),(-0.74,-0.58),(-0.70,-0.66),(-0.66,-0.52),(-0.62,-0.60),(-0.59,-0.68),
           (-0.56,-0.50),(-0.52,-0.62),(-0.48,-0.55),(-0.44,-0.66),(-0.40,-0.50),(-0.36,-0.60),(-0.31,-0.55),(-0.27,-0.65),
           (-0.64,-0.70),(-0.58,-0.57),(-0.50,-0.70),(-0.68,-0.47),
           (-0.85,-0.80),(-0.80,-0.88),(-0.76,-0.74),(-0.72,-0.85),(-0.68,-0.92),(-0.65,-0.78),(-0.61,-0.86),(-0.58,-0.75),
           (-0.55,-0.93),(-0.51,-0.80),(-0.47,-0.88),(-0.43,-0.76),(-0.39,-0.90),(-0.35,-0.82),(-0.31,-0.94),(-0.62,-0.95),
           (-0.57,-0.84),(-0.49,-0.74),
           (-0.80,-1.02),(-0.75,-1.12),(-0.71,-0.98),(-0.67,-1.08),(-0.63,-1.16),(-0.60,-1.03),(-0.56,-1.10),(-0.52,-0.98),
           (-0.48,-1.15),(-0.44,-1.05),(-0.40,-1.12),(-0.36,-1.00),(-0.58,-1.19),(-0.65,-0.99),
           (-0.70,-1.25),(-0.66,-1.35),(-0.62,-1.28),(-0.58,-1.40),(-0.55,-1.25),(-0.51,-1.33),(-0.47,-1.45),(-0.44,-1.28),
           (-0.40,-1.38),(-0.60,-1.48),(-0.53,-1.50),
           (-0.68,-1.64),(-0.67,-1.76),(-0.65,-1.76),(-0.68,-1.95),(-0.65,-1.97),(-0.60,-1.99),(-0.53,-1.79),(-0.48,-1.75),
           (-0.46,-1.94),(-0.39,-1.83),(-0.36,-1.65),(-0.34,-1.47),(-0.32,-1.57),(-0.57,-1.62),(-0.62,-1.58),(-0.50,-1.62),
           (-0.44,-1.58),
           (-0.61,-0.45),(-0.57,-0.52),(-0.64,-0.58),(-0.60,-0.64),(-0.55,-0.66),(-0.67,-0.72),(-0.62,-0.78),(-0.58,-0.82),
           (-0.54,-0.78),(-0.69,-0.85),(-0.64,-0.89),(-0.60,-0.92),(-0.56,-0.98),(-0.66,-1.02),(-0.62,-1.08),(-0.53,-1.04),
           (-0.59,-1.12),(-0.70,-0.55),(-0.73,-0.65),(-0.50,-0.58),(-0.47,-0.65),(-0.51,-0.87),(-0.72,-0.40),(-0.65,-0.35),
           (-0.60,-0.28),(-0.53,-0.35),(-0.48,-0.45),(-0.44,-0.52),(-0.74,-0.93),(-0.69,-1.18),(-0.63,-1.22),(-0.56,-1.30),
           (-0.63,-0.47),(-0.57,-0.40),(-0.79,-0.70),(-0.42,-0.85)]
p3_scatter = [(-1.84,-0.88),(-1.89,-1.30),(-1.64,-1.33),(-1.55,-1.34),(-1.68,-1.01),(-1.65,-0.66),(-1.58,-0.28),(-1.55,-0.11),
              (-1.64,-0.11),(-1.55,-0.57),(-1.50,-1.05),(-1.40,-1.19),(-1.38,-0.98),(-1.37,-0.62),(-1.37,-0.54),(-1.42,-0.30),
              (-1.37,-0.34),(-1.34,-0.23),(-1.31,-0.76),(-1.28,-0.54),(-1.25,-0.45),(-1.23,-0.92),(-1.20,-0.68),(-1.20,-0.75),
              (-1.16,-0.95),(-1.11,-1.02),(-1.09,-1.01),(-1.11,-1.30),(-1.10,-1.41),(-1.05,-1.41),(-1.09,-1.54),(-1.08,-1.58),
              (-1.07,-1.24),(-1.02,-0.59),(-1.01,-0.43),(-0.98,-0.86),(-0.96,-0.93),(-0.95,-1.24),(-0.89,-1.26),(-0.94,-0.75),
              (-0.93,-0.82),(-0.89,-0.80),(-0.85,-0.86),(-0.83,-1.04),(-0.80,-1.56),(-0.75,-1.56),(-0.81,-1.27),(-0.74,-1.23),
              (-0.73,-1.42),(-0.71,-1.47),(-0.25,-1.21),(-0.25,-1.05),(-0.27,-1.00),(-0.31,-1.02),(-0.12,-1.53),(-0.11,-1.59),
              (-0.10,-0.81),(-0.11,-0.88),(-0.18,-0.72),(-0.16,-0.66),(-0.11,-0.46),(-0.08,-0.43),(-0.20,-0.52),(-0.22,-0.20),
              (-0.15,-0.32),(-1.96,-0.28),(-1.25,-0.08),(-1.18,0.02),(-1.05,-0.15),(-0.96,-0.20),(-1.13,-0.28)]

# the object of interest, marked in red
target_nii = -0.76
target_sii = -0.58
target_oiii = -0.20

title = "AZ3690"
panel_labels = [("log NII/H\u03b1", "log OIII/H\u03b2"),
                ("log SII/H\u03b1", "log OI/H\u03b1"),
                ("log SII/H\u03b1", "log OIII/H\u03b2")]
panel_limits = [((-2.5, 1.5), (-2.0, 2.0)),
                ((-2.0, 1.0), (-3.0, 0.0)),
                ((-2.0, 1.0), (-2.0, 2.0))]


def to_frame(*groups):
    """groups: (points, shading weight) pairs."""
    rows = [(x, y, w) for pts, w in groups for x, y in pts]
    return pd.DataFrame(rows, columns=["x", "y", "w"])


# every point of a panel, with how strongly it feeds the density shading
panels = [
    to_frame((p1_top, 0.0), (p1_band, 1.0), (p1_fan, 1.0), (p1_core, 1.0), (p1_scatter, 0.5)),
    to_frame((p2_top, 0.0), (p2_branch, 1.0), (p2_left, 0.6), (p2_core, 1.0)),
    to_frame((p3_top, 0.0), (p3_band, 1.0), (p3_mid, 0.6), (p3_right, 0.6), (p3_core, 1.0), (p3_scatter, 0.35)),
]

shade = sns.blend_palette(["#ffffff", "#c4c4c4", "#727272", "#363636"], as_cmap=True)

W, H = 1930, 480
fig = plt.figure(figsize=(W / 100, H / 100), dpi=100)
offsets = [0, 645, 1290]

axes = []
for off, df, (xl, yl), (xlim, ylim) in zip(offsets, panels, panel_labels, panel_limits):
    ax = fig.add_axes([(off + 80) / W, 0.11, 496 / W, 0.77])
    dense = df[df["w"] > 0]
    sns.kdeplot(data=dense, x="x", y="y", weights="w", fill=True, cmap=shade, levels=16,
                thresh=0.08, bw_adjust=0.5, ax=ax, zorder=1)
    sns.scatterplot(data=df, x="x", y="y", color="k", edgecolor="k", linewidth=0.6,
                    s=14, alpha=0.17, ax=ax, zorder=2, legend=False)
    ax.set_xlim(*xlim)
    ax.set_ylim(*ylim)
    ax.set_title(title)
    ax.set_xlabel(xl)
    ax.set_ylabel(yl)
    axes.append(ax)

axes[0].scatter([target_nii], [target_oiii], s=110, color="red", zorder=3)
axes[1].axvline(target_sii, color="red", ls=":", lw=1.5, zorder=3)
axes[2].scatter([target_sii], [target_oiii], s=110, color="red", zorder=3)

# black separators between the three panels
for x0 in (640, 1285):
    fig.add_artist(Rectangle((x0 / W, 0), 5 / W, 1, transform=fig.transFigure,
                             facecolor="black", edgecolor="none"))

fig.savefig("out.png", dpi=100)
